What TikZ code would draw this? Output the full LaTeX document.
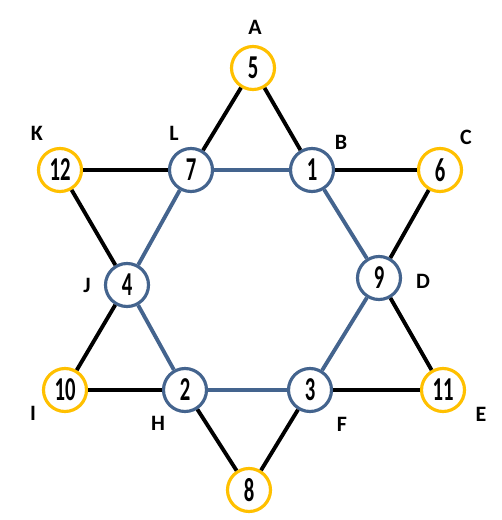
\documentclass[tikz,border=0pt]{standalone}
\usepackage{fontspec}
\setmainfont{Carlito}
\newfontfamily\numfont[FakeStretch=0.62]{Carlito}
\usetikzlibrary{positioning}
\usepackage{xcolor}
\definecolor{staryellow}{RGB}{255,192,0}
\definecolor{starblue}{RGB}{68,100,142}

\begin{document}
\begin{tikzpicture}[
  x=0.02cm, y=-0.02cm,
  outer/.style={circle, draw=staryellow, line width=1.8pt, fill=white, minimum size=0.86cm, inner sep=0pt, font=\numfont\bfseries\fontsize{19}{19}\selectfont},
  inner/.style={outer, draw=starblue},
  tag/.style={font=\bfseries\fontsize{12.5}{13}\selectfont, inner sep=0pt},
  rim/.style={line width=2.2pt, black},
  hex/.style={line width=2.2pt, starblue},
]
  \useasboundingbox (0,0) rectangle (502,520);

  % outer points
  \node[outer] (a) at (253,68) {5};
  \node[outer] (c) at (440,170) {6};
  \node[outer] (e) at (443,390) {11};
  \node[outer] (g) at (249,490) {8};
  \node[outer] (i) at (65,390) {10};
  \node[outer] (k) at (60,170) {12};

  % inner hexagon
  \node[inner] (b) at (312,170) {1};
  \node[inner] (d) at (379,278) {9};
  \node[inner] (f) at (310,390) {3};
  \node[inner] (h) at (185,390) {2};
  \node[inner] (j) at (127,285) {4};
  \node[inner] (l) at (191,170) {7};

  % letters
  \node[tag] (ta) at (255,27) {A};
  \node[tag] (tb) at (341,142) {B};
  \node[tag] (tc) at (466,137) {C};
  \node[tag] (td) at (423,281) {D};
  \node[tag] (te) at (481,414) {E};
  \node[tag] (tf) at (342,424) {F};
  \node[tag] (th) at (158,423) {H};
  \node[tag] (ti) at (33,413) {I};
  \node[tag] (tj) at (87,285) {J};
  \node[tag] (tk) at (37,133) {K};
  \node[tag] (tl) at (174,133) {L};

  \draw[rim] (a) -- (l);
  \draw[rim] (a) -- (b);
  \draw[rim] (b) -- (c);
  \draw[rim] (c) -- (d);
  \draw[rim] (d) -- (e);
  \draw[rim] (e) -- (f);
  \draw[rim] (f) -- (g);
  \draw[rim] (g) -- (h);
  \draw[rim] (h) -- (i);
  \draw[rim] (i) -- (j);
  \draw[rim] (j) -- (k);
  \draw[rim] (k) -- (l);

  \draw[hex] (l) -- (b);
  \draw[hex] (b) -- (d);
  \draw[hex] (d) -- (f);
  \draw[hex] (f) -- (h);
  \draw[hex] (h) -- (j);
  \draw[hex] (j) -- (l);
\end{tikzpicture}
\end{document}
